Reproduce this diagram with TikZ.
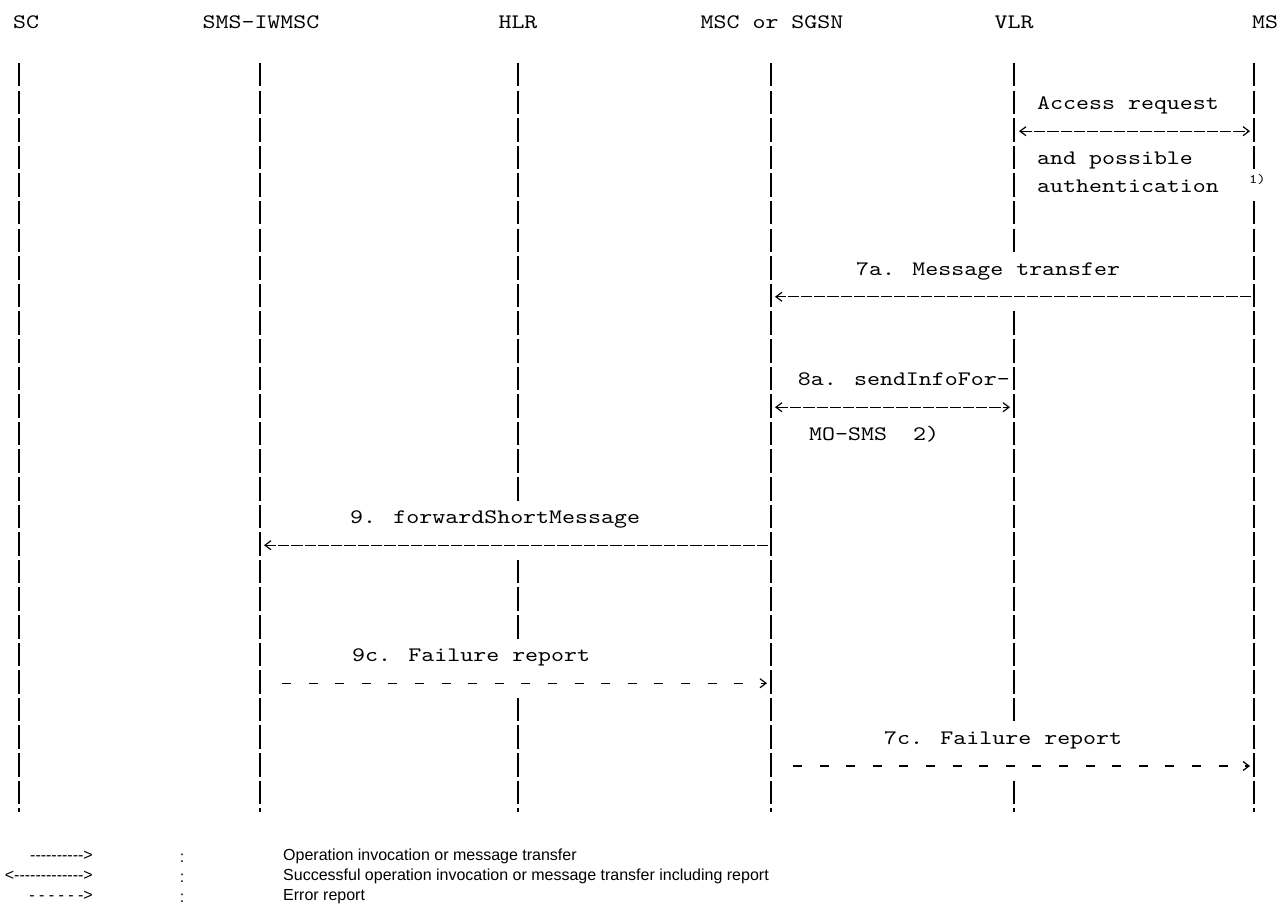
\documentclass[tikz,border=0pt]{standalone}
\usepackage{fontspec}
\usetikzlibrary{calc}
\usetikzlibrary{arrows.meta}

\newfontfamily\monofont{lmmono10-regular.otf}[FakeStretch=1.2]
\newfontfamily\legendfont{Liberation Sans}
% y of text row k (rows are 27.6 apart)
\newcommand{\ry}[1]{80+27.6*#1}
\newcommand{\ay}[1]{76+27.6*#1}

\begin{document}
\begin{tikzpicture}[
    x=1pt, y=-1pt,
    lbl/.style={font=\monofont\fontsize{20.6}{24}\selectfont, inner sep=0pt},
    life/.style={line width=1.8pt, dash pattern=on 23.5pt off 4.1pt},
    msg/.style={line width=1.3pt, dash pattern=on 11.3pt off 2pt},
    err/.style={line width=1.3pt, dash pattern=on 9pt off 17.6pt},
    onehead/.style={-{Straight Barb[length=6pt,width=9pt,line width=1.2pt]}},
    twohead/.style={{Straight Barb[length=6pt,width=9pt,line width=1.2pt]}-{Straight Barb[length=6pt,width=9pt,line width=1.2pt]}},
    legendtxt/.style={font=\legendfont\fontsize{16}{18}\selectfont, inner sep=0pt}
]
    \fill[white] (0,0) rectangle (1287,917);
    \useasboundingbox (0,0) rectangle (1287,917);

    % Entities
    \node[lbl] (sc)    at (26,22)   {SC};
    \node[lbl] (iwmsc) at (261,22)  {SMS-IWMSC};
    \node[lbl] (hlr)   at (518,22)  {HLR};
    \node[lbl] (msc)   at (772,22)  {MSC or SGSN};
    \node[lbl] (vlr)   at (1014,22) {VLR};
    \node[lbl] (ms)    at (1265,22) {MS};

    % Lifelines (broken where a label or arrow crosses)
    \coordinate (sc-top)    at (19,63);
    \coordinate (iwmsc-top) at (260,63);
    \coordinate (hlr-top)   at (518,63);
    \coordinate (msc-top)   at (771,63);
    \coordinate (vlr-top)   at (1014,63);
    \coordinate (ms-top)    at (1254,63);
    \foreach \who/\from/\to in {sc/0/27, iwmsc/0/27, hlr/0/16, hlr/18/21, hlr/23/27,
                                msc/0/27, vlr/0/7, vlr/9/24, vlr/26/27, ms/0/4, ms/5/27}
        \draw[life] ($(\who-top)+(0,{27.6*\from})$) -- ($(\who-top)+(0,{27.6*\to-2+6*(\to==27)})$);

    % Access request and possible authentication
    \node[lbl, anchor=mid west] (acc) at (1037,{\ry{1}}) {Access request};
    \coordinate (acc-vlr) at (1019,{\ay{2}});
    \coordinate (acc-ms)  at (1250,{\ay{2}});
    \draw[msg, twohead] (acc-vlr) -- (acc-ms);
    \node[lbl, anchor=mid west] (poss) at (1037,{\ry{3}}) {and possible};
    \node[lbl, anchor=mid west] (auth) at (1037,{\ry{4}}) {authentication};
    \node[lbl, font=\monofont\fontsize{13}{14}\selectfont, anchor=mid west] (note1) at (1249,{\ry{4}-9}) {1)};

    % 7a. Message transfer
    \node[lbl, anchor=mid west] (m7a) at (856,{\ry{7}}) {7a. Message transfer};
    \coordinate (m7a-ms)  at (1251,{\ay{8}});
    \coordinate (m7a-msc) at (775,{\ay{8}});
    \draw[msg, onehead] (m7a-ms) -- (m7a-msc);

    % 8a. sendInfoForMO-SMS
    \node[lbl, anchor=mid east] (m8a) at (1010,{\ry{11}}) {8a. sendInfoFor-};
    \coordinate (m8a-msc) at (775,{\ay{12}});
    \coordinate (m8a-vlr) at (1010,{\ay{12}});
    \draw[msg, twohead] (m8a-msc) -- (m8a-vlr);
    \node[lbl, anchor=mid west] (m8b) at (809,{\ry{13}}) {MO-SMS\ \ 2)};

    % 9. forwardShortMessage
    \node[lbl, anchor=mid west] (m9) at (350,{\ry{16}}) {9. forwardShortMessage};
    \coordinate (m9-msc)   at (768,{\ay{17}});
    \coordinate (m9-iwmsc) at (264,{\ay{17}});
    \draw[msg, onehead] (m9-msc) -- (m9-iwmsc);

    % 9c. Failure report
    \node[lbl, anchor=mid west] (m9c) at (352,{\ry{21}}) {9c. Failure report};
    \coordinate (m9c-iwmsc) at (282,{\ay{22}});
    \coordinate (m9c-msc)   at (767,{\ay{22}});
    \draw[err, onehead] (m9c-iwmsc) -- (m9c-msc);

    % 7c. Failure report
    \node[lbl, anchor=mid west] (m7c) at (884,{\ry{24}}) {7c. Failure report};
    \coordinate (m7c-msc) at (793,{\ay{25}});
    \coordinate (m7c-ms)  at (1250,{\ay{25}});
    \draw[err, onehead] (m7c-msc) -- (m7c-ms);

    % Key
    \node[legendtxt, anchor=mid east] (k1) at (93,858) {-{}-{}-{}-{}-{}-{}-{}-{}-{}->};
    \node[legendtxt, anchor=mid east] (k2) at (93,878) {<-{}-{}-{}-{}-{}-{}-{}-{}-{}-{}-{}-{}->};
    \node[legendtxt, anchor=mid east] (k3) at (93,898) {- - - - - ->};
    \node[legendtxt] (c1) at (182,858) {:};
    \node[legendtxt] (c2) at (182,878) {:};
    \node[legendtxt] (c3) at (182,898) {:};
    \node[legendtxt, anchor=mid west] (t1) at (283,858) {Operation invocation or message transfer};
    \node[legendtxt, anchor=mid west] (t2) at (283,878) {Successful operation invocation or message transfer including report};
    \node[legendtxt, anchor=mid west] (t3) at (283,898) {Error report};
\end{tikzpicture}
\end{document}
